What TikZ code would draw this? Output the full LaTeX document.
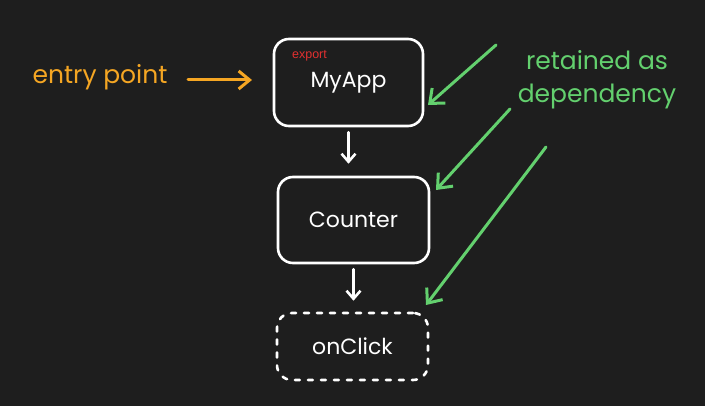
\documentclass[tikz,border=0pt]{standalone}
\usepackage{fontspec}
\setmainfont{Poppins}
\newfontfamily\labelfont{Liberation Sans}
\usetikzlibrary{arrows.meta}
\definecolor{bg}{RGB}{30,30,30}
\definecolor{orangeline}{RGB}{245,166,35}
\definecolor{greenline}{RGB}{99,208,110}
\definecolor{exportred}{RGB}{226,48,48}
\tikzset{
  box/.style={draw=white, line width=2.6pt, rounded corners=15pt, text=white,
    font=\fontsize{22}{26}\selectfont, inner sep=0pt},
  dashbox/.style={box, dash pattern=on 5pt off 8pt, line cap=round},
  warrow/.style={draw=white, line width=2.6pt, line cap=round,
    -{Straight Barb[length=8pt,width=14pt,line width=2.6pt]}},
  oarrow/.style={draw=orangeline, line width=3pt, line cap=round,
    -{Straight Barb[length=11pt,width=18pt,line width=3pt]}},
  garrow/.style={draw=greenline, line width=3pt, line cap=round,
    -{Straight Barb[length=12pt,width=20pt,line width=3pt]}},
  note/.style={font=\fontsize{25}{33}\selectfont, inner sep=0pt, align=center},
}
\begin{document}
\begin{tikzpicture}[x=1pt,y=-1pt]
\fill[bg] (0,0) rectangle (705,406);
\useasboundingbox (0,0) rectangle (705,406);

\node[box, minimum width=149pt, minimum height=87pt] (myapp) at (348.5,82.5) {MyApp};
\node[text=exportred, font=\labelfont\fontsize{12.5}{14}\selectfont, inner sep=0pt] (export) at (309.5,56) {export};
\node[box, minimum width=151pt, minimum height=86pt] (counter) at (353.5,220) {Counter};
\node[dashbox, minimum width=151pt, minimum height=67pt] (onclick) at (352.5,346.5) {onClick};

\node[note, text=orangeline] (entry) at (100,77) {entry point};
\node[note, text=greenline] (retained) at (597,80) {retained as\\dependency};

\draw[warrow, shorten <=5pt, shorten >=12pt] (myapp.south) -- (myapp.south |- counter.north);
\draw[warrow, shorten <=5pt, shorten >=11pt] (counter.south) -- (counter.south |- onclick.north);

\coordinate (e1) at (188,80);
\coordinate (e2) at (252,80);
\draw[oarrow] (e1) -- (e2);

\coordinate (g1s) at (496,45);
\coordinate (g1e) at (428,105);
\coordinate (g2s) at (510,109);
\coordinate (g2e) at (436,190);
\coordinate (g3s) at (546,147);
\coordinate (g3e) at (426,305);
\draw[garrow] (g1s) -- (g1e);
\draw[garrow] (g2s) -- (g2e);
\draw[garrow] (g3s) -- (g3e);
\end{tikzpicture}
\end{document}
